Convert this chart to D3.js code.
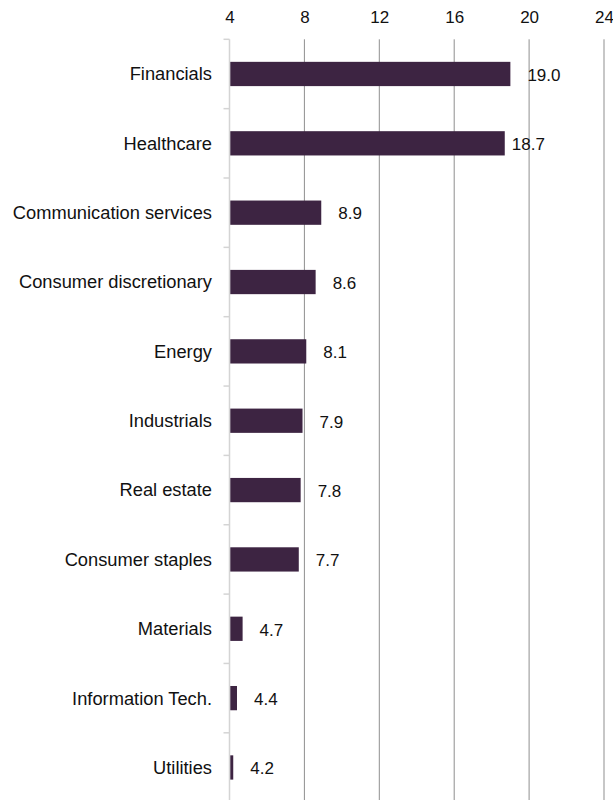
<!DOCTYPE html>
<html>
<head>
<meta charset="utf-8">
<script src="https://cdn.jsdelivr.net/npm/d3@7.9.0/dist/d3.min.js"></script>
<style>
  html, body { margin: 0; padding: 0; background: #fff; }
  svg { display: block; font-family: "Liberation Sans", Arial, sans-serif; }
</style>
</head>
<body>
<div id="chart"></div>
<script>
const sectors = ['Financials', 'Healthcare', 'Communication services', 'Consumer discretionary',
  'Energy', 'Industrials', 'Real estate', 'Consumer staples', 'Materials',
  'Information Tech.', 'Utilities'];
const values = [19.0, 18.7, 8.9, 8.6, 8.1, 7.9, 7.8, 7.7, 4.7, 4.4, 4.2];
const xTicks = [4, 8, 12, 16, 20, 24];

// label nudges (px), the Healthcare label sits closer to its bar in the original
const labelNudge = { Healthcare: -10 };

const width = 613;
const height = 800;
const x0 = 229.5, x1 = 604;
const yTop = 39.3, step = 69.35;

const data = sectors.map((s, i) => ({ sector: s, value: values[i] }));

const svg = d3.select('#chart').append('svg')
  .attr('width', width).attr('height', height);

const xScale = d3.scaleLinear().domain([4, 24]).range([x0, x1]);
const yScale = d3.scaleBand().domain(sectors)
  .range([yTop, yTop + step * sectors.length])
  .paddingInner(0.65).paddingOuter(0.325);

// vertical gridlines
svg.append('g').attr('class', 'grid')
  .selectAll('line').data(xTicks.slice(1)).join('line')
  .attr('x1', d => xScale(d)).attr('x2', d => xScale(d))
  .attr('y1', yTop).attr('y2', height)
  .attr('stroke', '#8f8f8f').attr('stroke-width', 1);

// top axis labels
const xAxis = svg.append('g')
  .attr('transform', `translate(0, ${yTop})`)
  .call(d3.axisTop(xScale).tickValues(xTicks).tickSize(0).tickPadding(16));
xAxis.select('.domain').remove();
xAxis.selectAll('text').attr('font-size', 17).attr('fill', '#111')
  .attr('font-family', '"Liberation Sans", Arial, sans-serif');

// left axis line and ticks at category boundaries
const bounds = d3.range(sectors.length + 1).map(i => yTop + i * step);
const yAxis = svg.append('g');
yAxis.append('line')
  .attr('x1', x0).attr('x2', x0).attr('y1', yTop).attr('y2', height)
  .attr('stroke', '#d4d4d4').attr('stroke-width', 1.5);
yAxis.selectAll('line.tk').data(bounds).join('line').attr('class', 'tk')
  .attr('x1', x0 - 6).attr('x2', x0)
  .attr('y1', d => d).attr('y2', d => d)
  .attr('stroke', '#d4d4d4').attr('stroke-width', 1.5);

// category labels
svg.append('g').selectAll('text').data(data).join('text')
  .attr('x', 212)
  .attr('y', d => yScale(d.sector) + yScale.bandwidth() / 2)
  .attr('dy', '0.35em')
  .attr('text-anchor', 'end')
  .attr('font-size', 18.3).attr('fill', '#111')
  .text(d => d.sector);

// bars
svg.append('g').selectAll('rect').data(data).join('rect')
  .attr('x', xScale(4) + 0.8)
  .attr('y', d => yScale(d.sector))
  .attr('width', d => xScale(d.value) - xScale(4) - 0.8)
  .attr('height', yScale.bandwidth())
  .attr('fill', '#3d2442');

// value labels
svg.append('g').selectAll('text').data(data).join('text')
  .attr('x', d => xScale(d.value) + 17 + (labelNudge[d.sector] || 0))
  .attr('y', d => yScale(d.sector) + yScale.bandwidth() / 2)
  .attr('dy', '0.4em')
  .attr('font-size', 17).attr('fill', '#111')
  .text(d => d.value.toFixed(1));
</script>
</body>
</html>
